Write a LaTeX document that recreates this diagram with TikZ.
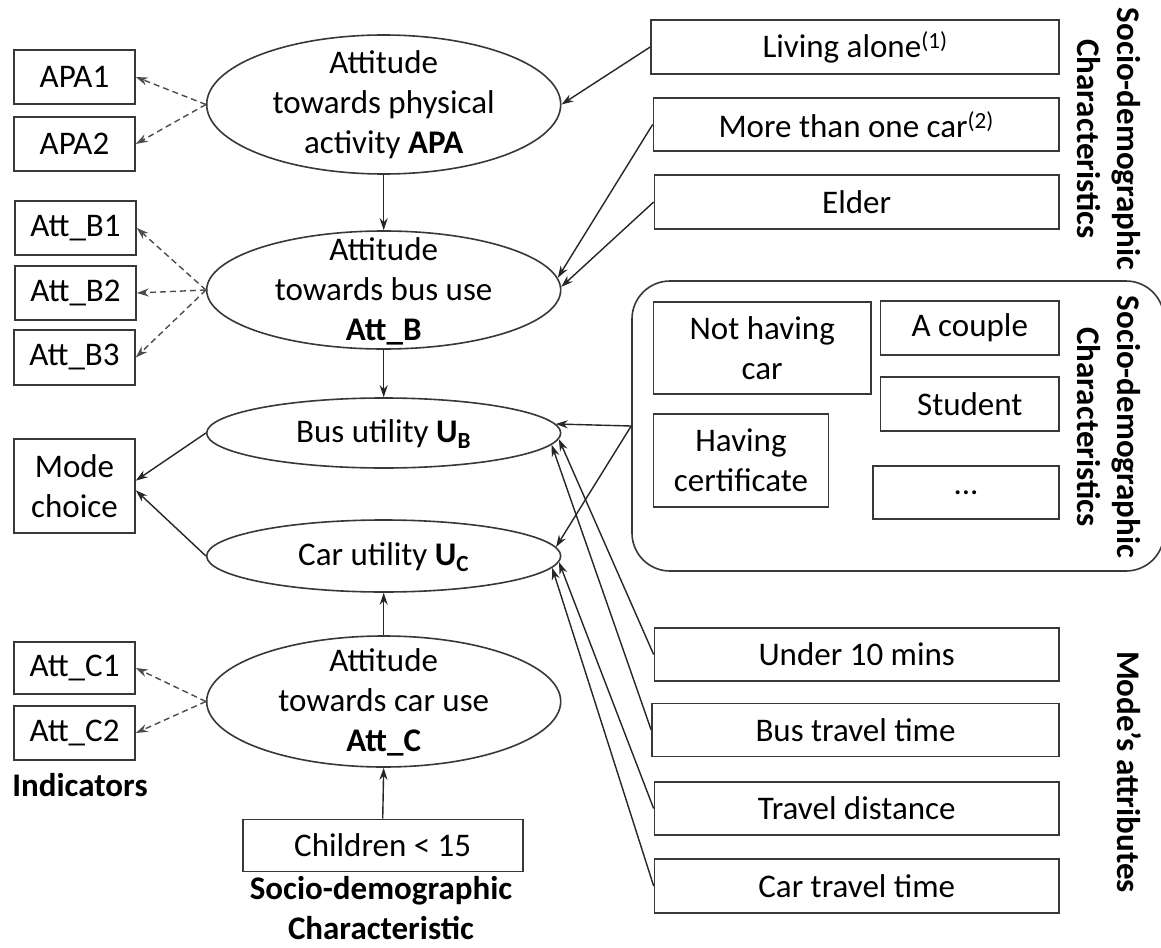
\documentclass[tikz,border=0pt]{standalone}
\usepackage{fontspec}
\setmainfont{Carlito}
\usetikzlibrary{arrows.meta,shapes.geometric}

\begin{document}
\begin{tikzpicture}[x=1pt,y=-1pt,
  every node/.style={font=\fontsize{33}{40}\selectfont, text=black},
  box/.style={rectangle, draw=black!78, line width=1.6pt, inner sep=0pt, align=center},
  latent/.style={ellipse, draw=black!78, line width=1.6pt, inner sep=0pt, minimum width=354pt},
  latxt/.style={align=center, inner sep=0pt},
  grp/.style={rectangle, rounded corners=38pt, draw=black!78, line width=1.6pt, inner sep=0pt},
  lbl/.style={align=center, inner sep=0pt, font=\fontsize{33}{40}\selectfont\bfseries},
  arr/.style={draw=black!85, line width=1.4pt, -{Stealth[length=12pt,width=8pt]}},
  ind/.style={arr, draw=black!70, dash pattern=on 6pt off 4pt}
]
\fill[white] (0,0) rectangle (1161,947);
\useasboundingbox (0,0) rectangle (1161,947);

% ---- latent variables (ellipses) and their texts ----
\node[latent, minimum height=139pt] (apa)  at (383.7,104.5) {};
\node[latxt] (apat) at (383.7,105) {Attitude\\towards physical\\activity \textbf{APA}};
\node[latent, minimum height=118pt] (attb) at (383.7,290) {};
\node[latxt] (attbt) at (383.7,291) {Attitude\\towards bus use\\\textbf{Att\_B}};
\node[latent, minimum height=70pt] (bus)  at (383.7,433) {};
\node[latxt] (bust) at (383.7,434) {Bus utility \textbf{U\textsubscript{B}}};
\node[latent, minimum height=72pt] (car)  at (383.7,556) {};
\node[latxt] (cart) at (383.7,557) {Car utility \textbf{U\textsubscript{C}}};
\node[latent, minimum height=131pt] (attc) at (383.7,701.5) {};
\node[latxt] (attct) at (383.7,702) {Attitude\\towards car use\\\textbf{Att\_C}};

% ---- indicators ----
\node[box, minimum width=121pt, minimum height=54.5pt] (apa1) at (74.5,77) {APA1};
\node[box, minimum width=121pt, minimum height=54.5pt] (apa2) at (74.5,144) {APA2};
\node[box, minimum width=121pt, minimum height=54pt] (b1) at (75.5,228) {Att\_B1};
\node[box, minimum width=121pt, minimum height=54pt] (b2) at (75.5,293) {Att\_B2};
\node[box, minimum width=121pt, minimum height=55pt] (b3) at (74.5,357.5) {Att\_B3};
\node[box, minimum width=121pt, minimum height=94pt] (mode) at (74.5,486) {Mode\\choice};
\node[box, minimum width=121pt, minimum height=52pt] (c1) at (74.5,668) {Att\_C1};
\node[box, minimum width=121pt, minimum height=53.5pt] (c2) at (74.5,733) {Att\_C2};
\node[lbl] (indlbl) at (80,785) {Indicators};

% ---- socio-demographic characteristic of car attitude ----
\node[box, minimum width=280pt, minimum height=52pt] (kids) at (382.7,845.5) {Children < 15};
\node[lbl] (kidslbl) at (381,908) {Socio-demographic\\Characteristic};

% ---- socio-demographic characteristics of the attitudes ----
\node[box, minimum width=408pt, minimum height=54pt] (alone) at (855,47) {Living alone\textsuperscript{(1)}};
\node[box, minimum width=405.5pt, minimum height=53pt] (cars) at (856.2,124.5) {More than one car\textsuperscript{(2)}};
\node[box, minimum width=404.5pt, minimum height=54.5pt] (elder) at (856.7,202) {Elder};
\node[lbl, rotate=-90] (sdlblA) at (1109,139) {Socio-demographic\\Characteristics};

% ---- socio-demographic characteristics of the utilities ----
\node[grp, minimum width=532pt, minimum height=290pt] (sd) at (898,426) {};
\node[box, minimum width=217.5pt, minimum height=92pt] (nocar) at (762.2,348) {Not having\\car};
\node[box, minimum width=178.5pt, minimum height=53.5pt] (couple) at (969.8,328) {A couple};
\node[box, minimum width=178.5pt, minimum height=53.5pt] (student) at (969.8,404) {Student};
\node[box, minimum width=175pt, minimum height=93pt] (cert) at (741,460.5) {Having\\certificate};
\node[box, minimum width=186pt, minimum height=53pt] (more) at (966,492.5) {...};
\node[lbl, rotate=-90] (sdlblB) at (1109,427) {Socio-demographic\\Characteristics};

% ---- mode attributes ----
\node[box, minimum width=404.5pt, minimum height=53pt] (u10) at (856.7,654.5) {Under 10 mins};
\node[box, minimum width=407pt, minimum height=53pt] (btt) at (855.5,730) {Bus travel time};
\node[box, minimum width=404.5pt, minimum height=53pt] (dist) at (856.7,808.5) {Travel distance};
\node[box, minimum width=404.5pt, minimum height=54.5pt] (ctt) at (856.7,886) {Car travel time};
\node[lbl, rotate=-90] (malbl) at (1129,772) {Mode’s attributes};

% ---- structural relations ----
\draw[arr] (apa.south) -- (attb.north);
\draw[arr] (attb.south) -- (bus.north);
\draw[arr] (attc.north) -- (car.south);
\draw[arr] (kids.north) -- (attc.south);
\draw[arr] (bus.west) -- (mode.5);
\draw[arr] (car.west) -- (mode.-4);
\draw[arr] (alone.west) -- (apa.east);
\draw[arr] (cars.west) -- (attb.4);
\draw[arr] (elder.west) -- (attb.1);
\draw[arr] (sd.west) -- (bus.3);
\draw[arr] (sd.west) -- (car.3);
\draw[arr] (u10.west) -- (bus.-2);
\draw[arr] (btt.west) -- (bus.-4);
\draw[arr] (dist.west) -- (car.-2);
\draw[arr] (ctt.west) -- (car.-4);

% ---- measurement relations ----
\draw[ind] (apa.west) -- (apa1.east);
\draw[ind] (apa.west) -- (apa2.east);
\draw[ind] (attb.west) -- (b1.east);
\draw[ind] (attb.west) -- (b2.east);
\draw[ind] (attb.west) -- (b3.east);
\draw[ind] (attc.west) -- (c1.east);
\draw[ind] (attc.west) -- (c2.east);
\end{tikzpicture}
\end{document}
